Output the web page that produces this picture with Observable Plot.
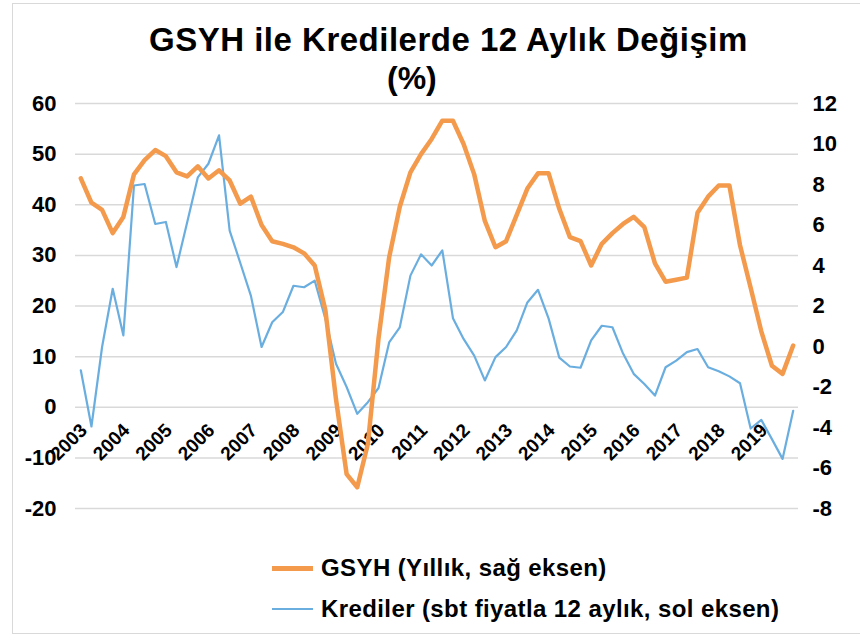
<!DOCTYPE html>
<html>
<head>
<meta charset="utf-8">
<script src="https://cdn.jsdelivr.net/npm/d3@7"></script>
<script src="https://cdn.jsdelivr.net/npm/@observablehq/plot@0.6"></script>
<style>
  body { margin: 0; background: #fff; }
  #wrap { position: relative; width: 860px; height: 636px; overflow: hidden;
          font-family: "Liberation Sans", Arial, sans-serif; font-weight: bold; color: #000; }
  #border { position: absolute; left: 12px; top: 3px; width: 860px; height: 631px; border: 1px solid #d9d9d9; box-sizing: border-box; }
  .t { position: absolute; white-space: nowrap; }
  #chart { position: absolute; left: 0; top: 100px; }
  .sw { position: absolute; left: 272px; width: 41px; }
</style>
</head>
<body>
<div id="wrap">
  <div id="border"></div>
  <div class="t" id="title1" style="left:149px; top:21px; font-size:33px; letter-spacing:0.5px; line-height:38px;">GSYH ile Kredilerde 12 Aylık Değişim</div>
  <div class="t" id="title2" style="left:387px; top:59px; font-size:32px; line-height:38px;">(%)</div>
  <div id="chart"></div>
  <div class="sw" style="top:566px; height:5px; background:#f39a4c;"></div>
  <div class="t" style="left:321px; top:553px; font-size:24px; letter-spacing:0.4px; line-height:30px;">GSYH (Yıllık, sağ eksen)</div>
  <div class="sw" style="top:608px; height:2px; background:#6aaee0;"></div>
  <div class="t" style="left:321px; top:594px; font-size:24px; letter-spacing:0.4px; line-height:30px;">Krediler (sbt fiyatla 12 aylık, sol eksen)</div>
</div>
<script>
// Quarterly data, 2003Q1 ... 2019Q4
const years = [2003,2004,2005,2006,2007,2008,2009,2010,2011,2012,2013,2014,2015,2016,2017,2018,2019];
const leftTicks = [-20,-10,0,10,20,30,40,50,60];
const rightTicks = [-8,-6,-4,-2,0,2,4,6,8,10,12];

// GSYH (Yıllık, sağ eksen)
const gsyh = [
  8.3, 7.1, 6.75, 5.6,   6.4, 8.5, 9.2, 9.7,   9.4, 8.6, 8.4, 8.9,   8.3, 8.7, 8.2, 7.05,
  7.4, 6.0, 5.2, 5.07,   4.9, 4.6, 4.0, 1.8,   -2.6, -6.3, -6.95, -4.8,   0.4, 4.4, 6.9, 8.6,
  9.5, 10.25, 11.15, 11.15,   10.0, 8.5, 6.2, 4.9,   5.2, 6.5, 7.8, 8.55,   8.55, 6.8, 5.4, 5.2,
  4.0, 5.07, 5.6, 6.05,   6.4, 5.9, 4.1, 3.2,   3.3, 3.4, 6.6, 7.4,   7.95, 7.95, 5.0, 2.9,
  0.75, -0.95, -1.35, 0.05
];
// Krediler (sbt fiyatla 12 aylık, sol eksen)
const krediler = [
  7.3, -3.8, 11.9, 23.4,   14.2, 43.8, 44.1, 36.2,   36.6, 27.7, 36.5, 45.4,   48.1, 53.7, 34.9, 28.5,
  22.0, 11.9, 16.8, 18.8,   24.0, 23.7, 25.0, 17.5,   8.6, 4.0, -1.3, 1.0,   3.8, 12.8, 15.8, 26.0,
  30.2, 28.0, 31.0, 17.6,   13.5, 10.2, 5.3, 9.9,   11.9, 15.2, 20.7, 23.2,   17.5, 9.8, 8.05, 7.8,
  13.2, 16.1, 15.8, 10.6,   6.6, 4.6, 2.3, 7.9,   9.2, 10.9, 11.5, 7.9,   7.1, 6.1, 4.75, -4.2,
  -2.5, -6.3, -10.2, -0.7
];

const orange = "#f39a4c";
const blue = "#6aaee0";
// right axis value r corresponds to left axis value (r + 3) * 4
const toLeft = r => (r + 3) * 4;

const rows = gsyh.map((g, i) => ({i, g: toLeft(g), k: krediler[i]}));

const chart = Plot.plot({
  width: 860,
  height: 440,
  marginTop: 3,
  marginBottom: 32,
  marginLeft: 75,
  marginRight: 62,
  x: {type: "linear", domain: [-0.5, gsyh.length - 0.5], axis: null},
  y: {domain: [-20, 60], axis: null},
  style: {fontFamily: "'Liberation Sans', Arial, sans-serif", fontWeight: "bold", color: "#000", background: "transparent", overflow: "visible"},
  marks: [
    Plot.ruleY(leftTicks, {stroke: "#d9d9d9", strokeWidth: 1.5}),
    Plot.axisY(leftTicks, {tickSize: 0, tickPadding: 19, tickFormat: d => String(d), fontSize: 22, label: null}),
    Plot.text(rightTicks, {y: toLeft, text: d => String(d), frameAnchor: "right", textAnchor: "start", dx: 14, fontSize: 22}),
    Plot.text(years, {x: (d, i) => i * 4, y: 0, text: d => String(d), rotate: -45, textAnchor: "end", dx: 3, dy: 20, fontSize: 19}),
    Plot.line(rows, {x: "i", y: "k", stroke: blue, strokeWidth: 2.2}),
    Plot.line(rows, {x: "i", y: "g", stroke: orange, strokeWidth: 4.5})
  ]
});
document.getElementById("chart").appendChild(chart);
</script>
</body>
</html>
